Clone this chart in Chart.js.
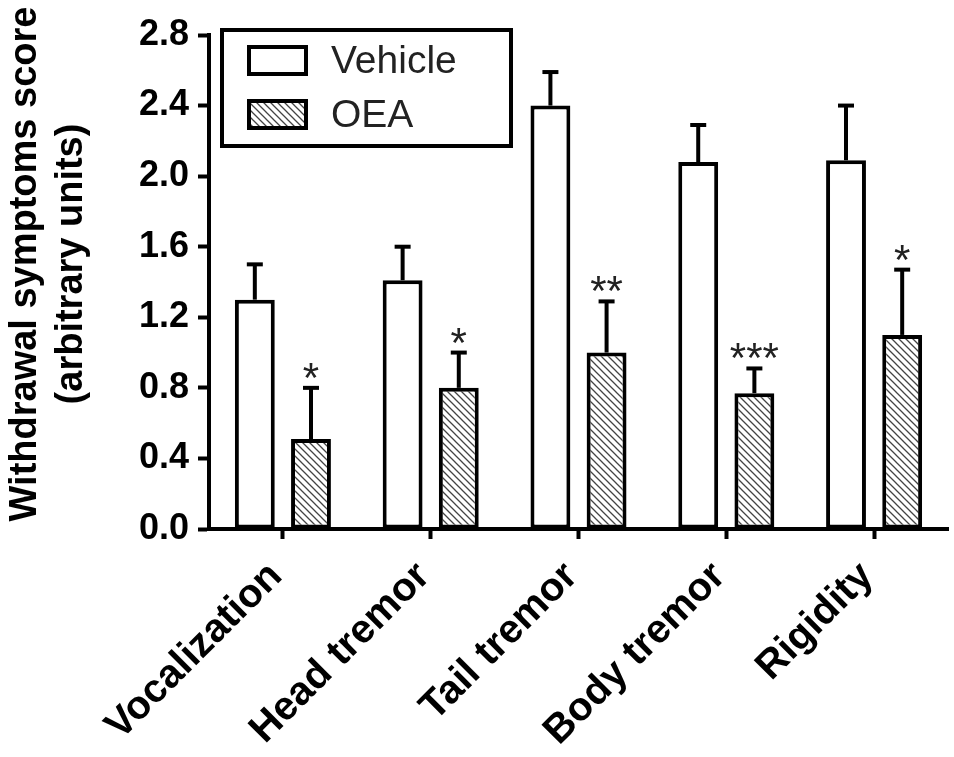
<!DOCTYPE html>
<html>
<head>
<meta charset="utf-8">
<script src="https://cdn.jsdelivr.net/npm/chart.js@4.4.1/dist/chart.umd.min.js"></script>
<style>
  html, body { margin: 0; padding: 0; background: #fff; }
  #wrap { width: 954px; height: 757px; }
</style>
</head>
<body>
<div id="wrap"><canvas id="c" width="954" height="757"></canvas></div>
<script>
const categories = ['Vocalization', 'Head tremor', 'Tail tremor', 'Body tremor', 'Rigidity'];
const vehicle = [1.30, 1.41, 2.40, 2.08, 2.09];
const vehicleErr = [0.20, 0.19, 0.19, 0.21, 0.31];
const oea = [0.51, 0.80, 1.00, 0.77, 1.10];
const oeaErr = [0.29, 0.20, 0.29, 0.14, 0.37];
const oeaStars = ['*', '*', '**', '***', '*'];
const yTicks = [0, 0.4, 0.8, 1.2, 1.6, 2.0, 2.4, 2.8];
const yTitle = ['Withdrawal symptoms score', '(arbitrary units)'];

const FONT = "'Liberation Sans', Arial, sans-serif";

function hatch() {
  const s = 7;
  const p = document.createElement('canvas');
  p.width = s; p.height = s;
  const g = p.getContext('2d');
  g.fillStyle = '#fff';
  g.fillRect(0, 0, s, s);
  g.strokeStyle = '#444';
  g.lineWidth = 1.3;
  g.beginPath();
  g.moveTo(0, 0); g.lineTo(s, s);
  g.moveTo(-s / 2, s / 2); g.lineTo(s / 2, s * 1.5);
  g.moveTo(s / 2, -s / 2); g.lineTo(s * 1.5, s / 2);
  g.stroke();
  return document.getElementById('c').getContext('2d').createPattern(p, 'repeat');
}
const oeaFill = hatch();

const errorBars = {
  id: 'errorBars',
  afterDatasetsDraw(chart) {
    const ctx = chart.ctx;
    const y = chart.scales.y;
    const errs = [vehicleErr, oeaErr];
    ctx.save();
    ctx.strokeStyle = '#000';
    chart.data.datasets.forEach((ds, i) => {
      chart.getDatasetMeta(i).data.forEach((bar, j) => {
        const top = y.getPixelForValue(ds.data[j]);
        const end = y.getPixelForValue(ds.data[j] + errs[i][j]);
        ctx.lineWidth = 4;
        ctx.beginPath();
        ctx.moveTo(bar.x, top);
        ctx.lineTo(bar.x, end);
        ctx.stroke();
        ctx.beginPath();
        ctx.moveTo(bar.x - 8, end);
        ctx.lineTo(bar.x + 8, end);
        ctx.stroke();
        if (i === 1) {
          ctx.fillStyle = '#222';
          ctx.font = '42px ' + FONT;
          ctx.textAlign = 'center';
          ctx.textBaseline = 'alphabetic';
          ctx.fillText(oeaStars[j], bar.x, end + 4);
        }
      });
    });
    ctx.restore();
  }
};

const boxLegend = {
  id: 'boxLegend',
  afterDraw(chart) {
    const ctx = chart.ctx;
    const a = chart.chartArea;
    const x0 = a.left + 13, y0 = a.top - 5;
    ctx.save();
    ctx.lineWidth = 4;
    ctx.strokeStyle = '#000';
    ctx.strokeRect(x0, y0, 289, 116);
    chart.data.datasets.forEach((ds, i) => {
      const by = y0 + 17 + i * 54;
      ctx.fillStyle = ds.backgroundColor;
      ctx.fillRect(x0 + 27, by, 57, 27);
      ctx.strokeRect(x0 + 27, by, 57, 27);
      ctx.fillStyle = '#222';
      ctx.font = '39px ' + FONT;
      ctx.textAlign = 'left';
      ctx.textBaseline = 'middle';
      ctx.fillText(ds.label, x0 + 109, by + 15);
    });
    ctx.restore();
  }
};

const axisTitle = {
  id: 'axisTitle',
  afterDraw(chart) {
    const ctx = chart.ctx;
    ctx.save();
    ctx.translate(26, 264);
    ctx.rotate(-Math.PI / 2);
    ctx.fillStyle = '#000';
    ctx.font = 'bold 38px ' + FONT;
    ctx.textAlign = 'center';
    ctx.textBaseline = 'middle';
    yTitle.forEach((t, i) => ctx.fillText(t, 0, i * 46));
    ctx.restore();
  }
};

new Chart(document.getElementById('c'), {
  type: 'bar',
  data: {
    labels: categories,
    datasets: [
      { label: 'Vehicle', data: vehicle, backgroundColor: '#fff', borderColor: '#000', borderWidth: 4, borderSkipped: false },
      { label: 'OEA', data: oea, backgroundColor: oeaFill, borderColor: '#000', borderWidth: 4, borderSkipped: false }
    ]
  },
  options: {
    responsive: false,
    animation: false,
    devicePixelRatio: 1,
    categoryPercentage: 0.76,
    barPercentage: 0.71,
    layout: { padding: { left: 0, right: 6, top: 35, bottom: 0 } },
    plugins: { legend: { display: false }, tooltip: { enabled: false } },
    scales: {
      x: {
        offset: true,
        grid: { offset: false, drawOnChartArea: false, drawTicks: true, tickLength: 10, tickWidth: 4, color: '#000' },
        border: { display: true, width: 4, color: '#000' },
        ticks: { color: '#000', font: { family: FONT, size: 40, weight: 'bold' }, maxRotation: 45, minRotation: 45, padding: 14, labelOffset: -7, autoSkip: false },
        afterFit: s => { s.height = 228; }
      },
      y: {
        min: 0, max: 2.8,
        afterBuildTicks: s => { s.ticks = yTicks.map(v => ({ value: v })); },
        grid: { drawOnChartArea: false, drawTicks: true, tickLength: 11, tickWidth: 4, color: '#000' },
        border: { display: true, width: 4, color: '#000' },
        ticks: { color: '#000', font: { family: FONT, size: 36, weight: 'bold' }, padding: 9, callback: v => v.toFixed(1) },
        afterFit: s => { s.width = 209; }
      }
    }
  },
  plugins: [errorBars, boxLegend, axisTitle]
});
</script>
</body>
</html>
